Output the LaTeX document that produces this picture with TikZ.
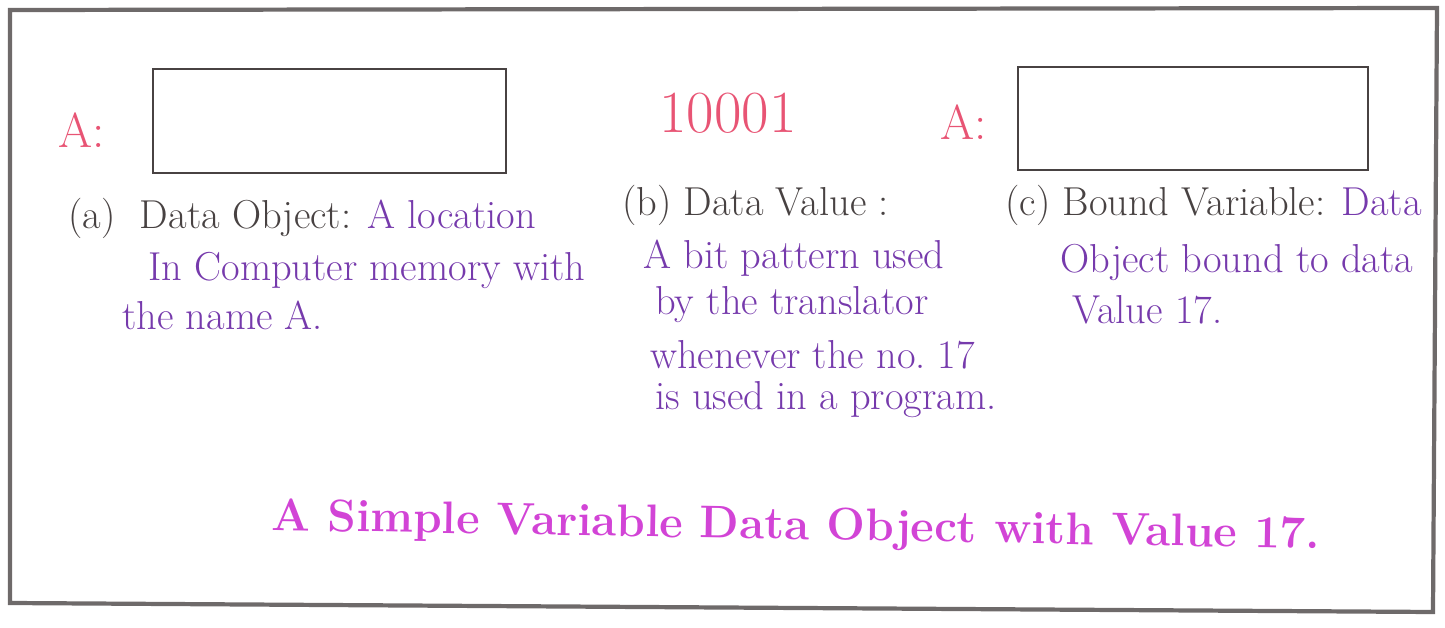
\documentclass[tikz,border=0pt]{standalone}
\usepackage{color}
\definecolor{penred}{RGB}{232,84,116}
\definecolor{penviolet}{RGB}{118,58,172}
\definecolor{pengray}{RGB}{72,66,66}
\definecolor{penpink}{RGB}{210,68,214}
\definecolor{framegray}{RGB}{110,106,106}

\begin{document}
\begin{tikzpicture}[x=0.02cm,y=-0.02cm,inner sep=0pt,
  txt/.style={anchor=west,font=\fontsize{23}{27}\selectfont},
  cell/.style={draw=pengray,line width=1.6pt,minimum width=7.06cm,minimum height=2.08cm},
  tag/.style={text=penred,font=\fontsize{28}{32}\selectfont}]
\useasboundingbox (0,0) rectangle (1445,628);
\draw[framegray,line width=2.4pt] (10,10) -- (1437,8) -- (1433,612) -- (10,603) -- cycle;

\node[tag] (tagA) at (82,130) {A:};
\node[cell] (obj) at (329.5,121) {};
\node[text=penred,font=\fontsize{34}{38}\selectfont] (bits) at (728,113) {10001};
\node[tag] (tagC) at (964,122) {A:};
\node[cell,minimum width=7cm,minimum height=2.06cm] (bound) at (1193,118.5) {};

% (a)
\node[txt,text=pengray] (a1) at (68,218) {(a)\ \ Data Object: \textcolor{penviolet}{A location}};
\node[txt,text=penviolet] (a2) at (148,270) {In Computer memory with};
\node[txt,text=penviolet] (a3) at (122,315) {the name A.};

% (b)
\node[txt,text=pengray] (b1) at (622,205) {(b) Data Value :};
\node[txt,text=penviolet] (b2) at (643,258) {A bit pattern used};
\node[txt,text=penviolet] (b3) at (655,305) {by the translator};
\node[txt,text=penviolet] (b4) at (650,355) {whenever the no.\ 17};
\node[txt,text=penviolet] (b5) at (655,400) {is used in a program.};

% (c)
\node[txt,text=pengray] (c1) at (1005,205) {(c) Bound Variable: \textcolor{penviolet}{Data}};
\node[txt,text=penviolet] (c2) at (1060,262) {Object bound to data};
\node[txt,text=penviolet] (c3) at (1072,310) {Value 17.};

\node[text=penpink,font=\fontsize{26}{30}\selectfont\bfseries,rotate=-1] (title) at (796,528)
  {A Simple Variable Data Object with Value 17.};
\end{tikzpicture}
\end{document}
